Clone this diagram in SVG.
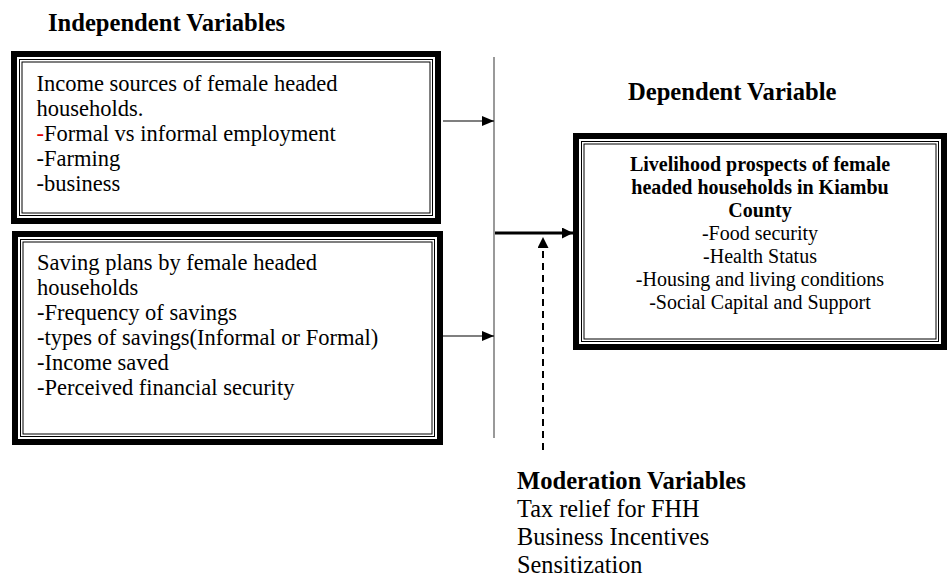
<svg xmlns="http://www.w3.org/2000/svg" width="947" height="577" viewBox="0 0 947 577">
<style>
.t{font-family:"Liberation Serif","Times New Roman",serif;fill:#000}
.reg{font-size:22.5px}
.b{font-weight:bold}
.h{font-size:24.6px;font-weight:bold}
.dep{font-size:20px;text-anchor:middle}
.mod{font-size:24.3px}
.outer{fill:#fff;stroke:#000;stroke-width:6}
.thin{fill:none;stroke:#000;stroke-width:1}
</style>
<defs>
<marker id="ah" markerWidth="12" markerHeight="10" refX="12" refY="5" orient="auto" markerUnits="userSpaceOnUse">
<path d="M0,0 L12,5 L0,10 Z" fill="#000"/>
</marker>
<marker id="ahs" markerWidth="11" markerHeight="11" refX="11" refY="5.5" orient="auto" markerUnits="userSpaceOnUse">
<path d="M0,0 L11,5.5 L0,11 Z" fill="#000"/>
</marker>
</defs>
<rect width="947" height="577" fill="#fff"/>

<text class="t h" x="48" y="31">Independent Variables</text>
<text class="t h" x="628" y="100">Dependent Variable</text>

<g id="box-income">
<rect class="outer" x="14" y="54" width="424" height="167"/>
<rect class="thin" x="19.5" y="59.5" width="413" height="156"/>
<rect class="thin" x="22" y="62" width="408" height="151"/>
<text class="t reg" x="36.5" y="90.5">Income sources of female headed</text>
<text class="t reg" x="36.5" y="115.6">households.</text>
<text class="t reg" x="36.5" y="140.7"><tspan fill="#e00000">-</tspan>Formal vs informal employment</text>
<text class="t reg" x="36.5" y="165.8">-Farming</text>
<text class="t reg" x="36.5" y="190.9">-business</text>
</g>

<g id="box-savings">
<rect class="outer" x="15" y="234" width="425" height="208"/>
<rect class="thin" x="20.5" y="239.5" width="414" height="197"/>
<rect class="thin" x="23" y="242" width="409" height="192"/>
<text class="t reg" x="37" y="270">Saving plans by female headed</text>
<text class="t reg" x="37" y="295">households</text>
<text class="t reg" x="37" y="320">-Frequency of savings</text>
<text class="t reg" x="37" y="345">-types of savings(Informal or Formal)</text>
<text class="t reg" x="37" y="370">-Income saved</text>
<text class="t reg" x="37" y="395">-Perceived financial security</text>
</g>

<g id="box-dependent">
<rect class="outer" x="576" y="136" width="368" height="211"/>
<rect class="thin" x="581.5" y="141.5" width="357" height="200"/>
<rect class="thin" x="584" y="144" width="352" height="195"/>
<text class="t dep b" x="760" y="171">Livelihood prospects of female</text>
<text class="t dep b" x="760" y="194">headed households in Kiambu</text>
<text class="t dep b" x="760" y="217">County</text>
<text class="t dep" x="760" y="240">-Food security</text>
<text class="t dep" x="760" y="263">-Health Status</text>
<text class="t dep" x="760" y="286">-Housing and living conditions</text>
<text class="t dep" x="760" y="309">-Social Capital and Support</text>
</g>

<g id="moderation">
<text class="t h" x="517" y="489">Moderation Variables</text>
<text class="t mod" x="517" y="517">Tax relief for FHH</text>
<text class="t mod" x="517" y="545">Business Incentives</text>
<text class="t mod" x="517" y="573">Sensitization</text>
</g>

<g id="connectors">
<line x1="494" y1="57" x2="494" y2="438" stroke="#777" stroke-width="1.5"/>
<line x1="443" y1="121" x2="494" y2="121" stroke="#000" stroke-width="1.2" marker-end="url(#ah)"/>
<line x1="443" y1="336" x2="494" y2="336" stroke="#000" stroke-width="1.2" marker-end="url(#ah)"/>
<line x1="495" y1="233" x2="573" y2="233" stroke="#000" stroke-width="3" marker-end="url(#ahs)"/>
<line x1="543" y1="450" x2="543" y2="237" stroke="#000" stroke-width="2" stroke-dasharray="7,5" marker-end="url(#ahs)"/>
</g>
</svg>
